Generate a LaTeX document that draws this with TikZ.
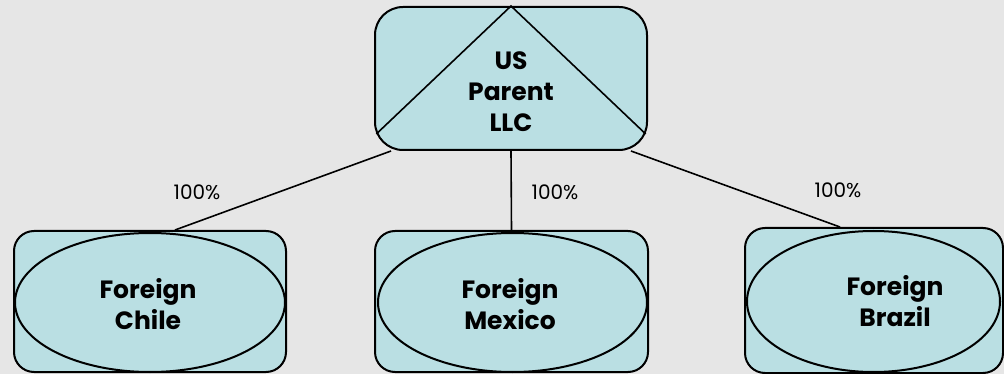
\documentclass[tikz,border=0pt]{standalone}
\usepackage{fontspec}
\setmainfont{Poppins}
\usetikzlibrary{shapes.geometric}

\definecolor{boxblue}{RGB}{186,223,227}
\definecolor{backgray}{RGB}{230,230,230}

\tikzset{
  entity/.style={draw, line width=2pt, fill=boxblue, rounded corners=20pt, inner sep=0pt},
  oval/.style={draw, line width=2pt, ellipse, inner sep=0pt},
  entname/.style={align=center, font=\bfseries\fontsize{25}{31}\selectfont},
  share/.style={font=\fontsize{20}{24}\selectfont},
  link/.style={line width=1.6pt}
}

\begin{document}
\begin{tikzpicture}[x=1pt, y=-1pt]
  \fill [backgray] (0,0) rectangle (1004,374);
  \useasboundingbox (0,0) rectangle (1004,374);

  % parent company
  \node [entity, rounded corners=28pt, minimum width=272pt, minimum height=143pt] (parent) at (511,78.5) {};
  \draw [link] ([xshift=2.3pt, yshift=17pt]parent.south west) -- (parent.north) -- ([xshift=-2.3pt, yshift=17pt]parent.south east);
  \node [entname] (parentname) at (511,92) {US\\Parent\\LLC};

  % subsidiaries
  \node [entity, minimum width=272pt, minimum height=141pt] (chile) at (150,301.5) {};
  \node [oval, minimum width=270pt, minimum height=139pt] (chileoval) at (150,302.5) {};
  \node [entname] (chilename) at (148,304) {Foreign\\Chile};

  \node [entity, minimum width=273pt, minimum height=141pt] (mexico) at (511.5,301.5) {};
  \node [oval, minimum width=269pt, minimum height=139pt] (mexicooval) at (512.5,302.5) {};
  \node [entname] (mexiconame) at (510,304) {Foreign\\Mexico};

  \node [entity, minimum width=258pt, minimum height=145pt] (brazil) at (874,300.5) {};
  \node [oval, minimum width=253pt, minimum height=141pt] (braziloval) at (873.5,301.5) {};
  \node [entname] (brazilname) at (895,301) {Foreign\\Brazil};

  % ownership lines
  \draw [link] ([xshift=17pt]parent.south west) -- ([xshift=25pt]chile.north);
  \draw [link] (parent.south) -- (mexico.north);
  \draw [link] ([xshift=-17pt]parent.south east) -- ([xshift=-34pt]brazil.north);

  \node [share] (chileshare) at (197,192) {100\%};
  \node [share] (mexicoshare) at (555,192) {100\%};
  \node [share] (brazilshare) at (838,190) {100\%};
\end{tikzpicture}
\end{document}
